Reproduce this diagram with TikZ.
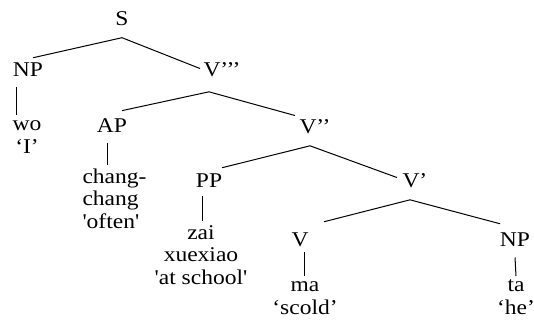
\documentclass[tikz,border=0pt]{standalone}
\usepackage{fontspec}
\newfontfamily\treefont{Liberation Serif}[FakeStretch=1.12]
\usepackage{tikz}

\tikzset{
  cat/.style={anchor=base, inner sep=0pt},
  leaf/.style={anchor=base, inner sep=0pt, align=center},
}

\begin{document}
\begin{tikzpicture}[x=1pt, y=1pt, line width=1pt,
    font=\treefont\fontsize{21}{22.5}\selectfont]
  \useasboundingbox (0,0) rectangle (534,-323);
  % categories
  \node[cat] (S) at (122,-26) {S};
  \node[cat] (NPs) at (28,-77) {NP};
  \node[cat, anchor=base west] (V3) at (203,-77) {V’’’};
  \node[cat] (AP) at (112,-132) {AP};
  \node[cat, anchor=base west] (V2) at (299,-133) {V’’};
  \node[cat] (PP) at (209,-187) {PP};
  \node[cat, anchor=base west] (V1) at (402,-187) {V’};
  \node[cat] (V) at (300,-246) {V};
  \node[cat] (NPo) at (515,-246) {NP};
  % words (base = last line)
  \node[leaf] (wo) at (27,-153) {wo\\‘I’};
  \node[leaf, align=left, anchor=base west] (changchang) at (82,-228) {chang-\\chang\\'often'};
  \node[leaf] (zai) at (201,-284) {zai\\xuexiao\\'at school'};
  \node[leaf] (ma) at (305,-314) {ma\\‘scold’};
  \node[leaf] (ta) at (516,-314) {ta\\‘he’};
  % branches
  \draw ([yshift=-11]S.south) -- ([shift={(5,5)}]NPs.north);
  \draw ([yshift=-11]S.south) -- ([shift={(-3,-6)}]V3.north west);
  \draw ([shift={(6,-14)}]V3.south west) -- ([shift={(10,7)}]AP.north);
  \draw ([shift={(6,-14)}]V3.south west) -- ([shift={(-4,3)}]V2.north west);
  \draw ([shift={(11,-12)}]V2.south west) -- ([shift={(13,5)}]PP.north);
  \draw ([shift={(11,-12)}]V2.south west) -- ([shift={(-5,-5)}]V1.north west);
  \draw ([shift={(8,-12)}]V1.south west) -- ([shift={(24,10)}]V.north);
  \draw ([shift={(8,-12)}]V1.south west) -- ([shift={(-15,8)}]NPo.north);
  \draw ([shift={(-12,-10)}]NPs.south) -- ([shift={(-11,5)}]wo.north);
  \draw ([shift={(-5,-10)}]AP.south) -- ([shift={(25,3)}]changchang.north west);
  \draw ([shift={(-7,-8)}]PP.south) -- ([shift={(1,4)}]zai.north);
  \draw ([shift={(4,-5)}]V.south) -- ([shift={(-1,5)}]ma.north);
  \draw ([yshift=-11]NPo.south) -- ([yshift=3]ta.north);
\end{tikzpicture}
\end{document}
